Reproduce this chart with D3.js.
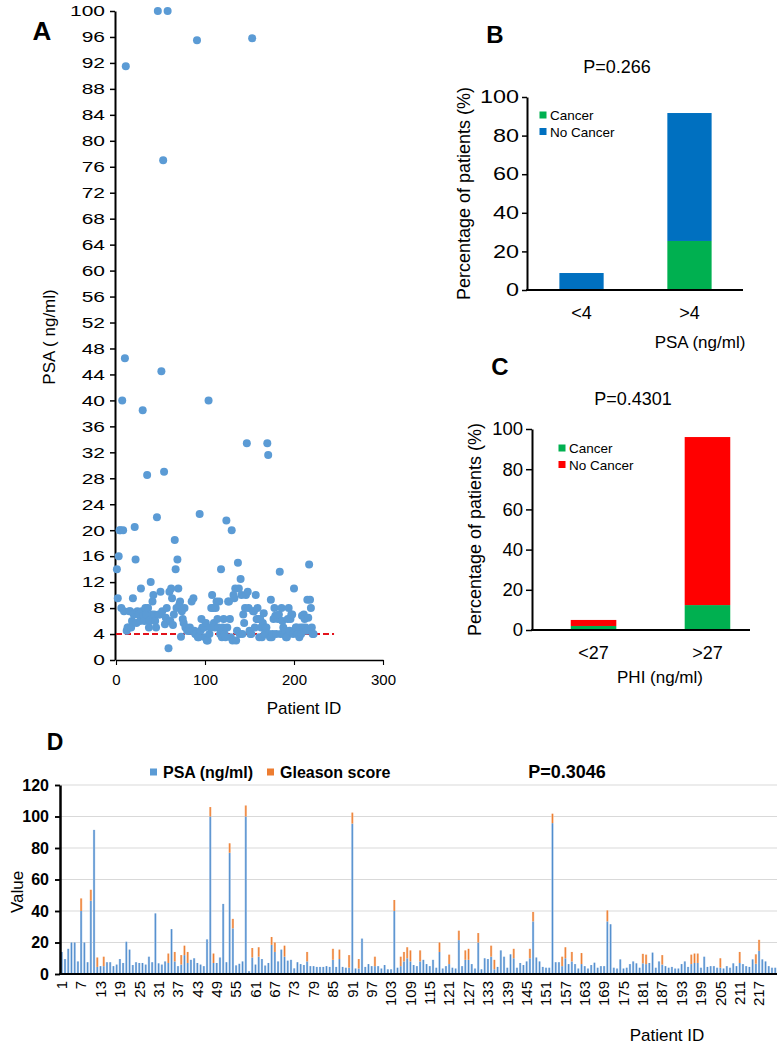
<!DOCTYPE html>
<html><head><meta charset="utf-8">
<script src="https://cdn.jsdelivr.net/npm/d3@7/dist/d3.min.js"></script>
<style>
body{margin:0;background:#fff}
svg text{font-family:"Liberation Sans",Arial,sans-serif;fill:#000}
</style>
</head><body>
<svg id="c" width="781" height="1048"></svg>
<script>
// ---------------- DATA ----------------
const patientIds = d3.range(1, 223);
const psa = [
 14, 9.5, 16, 20, 20, 8, 40, 20, 7.5, 46.5,
 91.5, 4.5, 5, 5, 7.5, 7.5, 5, 6, 9.5, 7,
 20.5, 15.5, 5.7, 7.5, 7, 7, 6, 11, 7.5, 38.5,
 6.8, 6, 8, 7, 28.5, 8, 5, 6, 12, 7,
 9, 10, 7, 6, 5, 22, 100, 7, 7, 10.5,
 44.5, 7.5, 77, 29, 5.5, 6.5, 8, 100, 1.8, 10.5,
 6, 11, 9.5, 5.4, 7, 18.5, 14, 8, 15.5, 11,
 8.5, 9, 3.6, 7.5, 6.3, 5.7, 8, 5, 5, 4.5,
 4.5, 4.5, 5, 4.5, 9, 4.5, 9.5, 4.5, 4, 4,
 95.5, 3.5, 3.5, 22.5, 4.5, 6.3, 5, 5, 5, 3.5,
 5.7, 3, 3, 40, 4, 5, 8, 10, 8, 5.7,
 5, 8, 9, 6.3, 5, 9, 4, 14, 3.5, 5,
 6.3, 4, 3.5, 21.5, 5, 9, 9, 6.3, 3.5, 20,
 3, 10, 9.5, 11, 3, 4.5, 15, 11, 4, 12.5,
 10, 4, 7, 5.7, 8, 10, 33.4, 10.5, 8, 4.5,
 4, 4, 95.8, 7.5, 7.5, 5, 10, 6.3, 8, 6.3,
 3.5, 6.3, 5, 3.5, 5.7, 7.2, 4, 5, 5, 33.4,
 31.6, 4, 3.5, 9.3, 3.5, 4, 6.3, 8, 6.8, 4,
 6.8, 6.3, 7, 13.6, 4, 8, 6, 5, 4, 4.5,
 3.5, 3.5, 6.3, 8, 4.5, 6.3, 7, 7, 4, 11,
 4.5, 5, 5, 4, 4, 3.5, 5, 4, 6.8, 5,
 7, 6.3, 5, 4.5, 9.3, 6.5, 14.7, 9.3, 8, 5,
 4, 4
];
const gleason = [
 0,0,0,0,0,0,8,0,0,7,
 0,6,0,6,0,0,0,0,0,0,
 0,0,0,0,0,0,0,0,0,0,
 0,0,0,6,0,6,0,6,6,7,
 0,0,0,0,0,0,6,6,0,0,
 0,0,6,6,0,0,0,7,0,6,
 0,6,0,0,0,5,6,0,0,7,
 0,0,0,0,0,0,6,0,0,0,
 0,0,0,0,7,0,6,0,0,8,
 7,0,6,0,0,0,0,6,0,0,
 0,0,0,7,0,6,6,7,7,0,
 0,7,0,0,0,0,0,6,0,0,
 6,0,0,6,0,6,7,0,0,6,
 0,0,0,7,6,0,0,0,0,0,
 6,0,0,0,0,6,6,0,0,0,
 0,0,6,0,0,6,7,0,6,0,
 0,7,0,0,0,0,0,0,0,7,
 0,0,0,0,0,0,0,0,0,0,
 6,6,0,0,0,0,6,0,0,0,
 0,0,0,0,0,6,6,6,0,0,
 0,0,0,0,6,0,0,0,0,0,
 7,0,0,0,0,6,7,0,0,0,
 0,0
];
const psaThreshold = 4;
const thresholdLineEnd = 245;
const scatterYTicks = d3.range(0, 101, 4);
const scatterXTicks = [0, 100, 200, 300];

const psaGroups = ["<4", ">4"];
const psaCancer = [0, 25.4];
const psaNoCancer = [8.8, 66.3];

const phiGroups = ["<27", ">27"];
const phiCancer = [2, 12.4];
const phiNoCancer = [3, 83.6];
const pctTicks = [0, 20, 40, 60, 80, 100];

const valueTicks = [0, 20, 40, 60, 80, 100, 120];
const idLabelStep = 6;

// ---------------- DRAW ----------------
const svg = d3.select("#c");
const FONT = '"Liberation Sans",Arial,sans-serif';

function styleAxis(g, w) {
  g.selectAll(".domain").attr("stroke", "#000").attr("stroke-width", w);
  g.selectAll(".tick line").attr("stroke", "#000").attr("stroke-width", w * 0.75);
  g.selectAll("text").attr("font-family", FONT).attr("fill", "#000");
}
function stretchLeftLabels(g, off, sx) {
  g.selectAll(".tick text").attr("x", -off / sx).attr("transform", `scale(${sx},1)`);
}

// ===== Panel A =====
{
  const x = d3.scaleLinear().domain([0, 300]).range([116, 383]);
  const y = d3.scaleLinear().domain([0, 100]).range([660, 11]);
  const gy = svg.append("g").attr("transform", "translate(115,0)")
    .call(d3.axisLeft(y).tickValues(scatterYTicks).tickSize(5).tickPadding(4).tickSizeOuter(0));
  styleAxis(gy, 2);
  gy.selectAll("text").attr("font-size", 15);
  stretchLeftLabels(gy, 10, 1.4);
  const gx = svg.append("g").attr("transform", "translate(0,660)")
    .call(d3.axisBottom(x).tickValues(scatterXTicks).tickSize(5).tickPadding(9).tickSizeOuter(0));
  styleAxis(gx, 1.5);
  gx.select(".domain").attr("stroke-width", 1.5);
  gx.selectAll("text").attr("font-size", 15);

  svg.append("line")
    .attr("x1", x(0)).attr("x2", x(thresholdLineEnd))
    .attr("y1", y(psaThreshold)).attr("y2", y(psaThreshold))
    .attr("stroke", "#e3121b").attr("stroke-width", 2).attr("stroke-dasharray", "6,3");

  svg.append("g").selectAll("circle").data(patientIds).join("circle")
    .attr("cx", d => x(d)).attr("cy", (d, i) => y(Math.min(psa[i], 100)))
    .attr("r", 4).attr("fill", "#5b9bd5");

  svg.append("text").attr("x", 42).attr("y", 40).attr("text-anchor", "middle")
    .attr("font-size", 26).attr("font-weight", "bold").text("A");
  svg.append("text").attr("transform", "translate(49.5,337) rotate(-90)")
    .attr("text-anchor", "middle").attr("dominant-baseline", "central")
    .attr("font-size", 17).text("PSA ( ng/ml)");
  svg.append("text").attr("x", 304).attr("y", 714).attr("text-anchor", "middle")
    .attr("font-size", 17).text("Patient ID");
}

// ===== Stacked percentage panels (B, C) =====
function stackedPanel(o) {
  const x = d3.scaleBand().domain(o.groups).range([o.x0, o.x1])
    .paddingInner(o.pi).paddingOuter(o.po);
  const y = d3.scaleLinear().domain([0, 100]).range([o.y0, o.y100]);
  const rows = o.groups.map((g, i) => ({ g, cancer: o.cancer[i], no: o.no[i] }));
  const stack = d3.stack().keys(["cancer", "no"])(rows);
  const colors = { cancer: "#00b050", no: o.noColor };
  svg.append("g").selectAll("g").data(stack).join("g")
    .attr("fill", s => colors[s.key])
    .selectAll("rect").data(s => s).join("rect")
    .attr("x", d => x(d.data.g)).attr("width", x.bandwidth())
    .attr("y", d => y(d[1])).attr("height", d => Math.max(0, y(d[0]) - y(d[1])));

  const gy = svg.append("g").attr("transform", `translate(${o.x0},0)`)
    .call(d3.axisLeft(y).tickValues(pctTicks).tickSize(o.tick).tickPadding(3).tickSizeOuter(0));
  styleAxis(gy, 2);
  gy.selectAll("text").attr("font-size", o.tickFont);
  if (o.stretch !== 1) stretchLeftLabels(gy, o.tick + 3, o.stretch);
  svg.append("line").attr("x1", o.x0 - 1).attr("x2", o.axisEnd)
    .attr("y1", o.y0).attr("y2", o.y0).attr("stroke", "#000").attr("stroke-width", 2);
  svg.append("g").selectAll("text").data(o.groups).join("text")
    .attr("x", d => x(d) + x.bandwidth() / 2).attr("y", o.y0 + 29)
    .attr("text-anchor", "middle").attr("font-size", 18).text(d => d);

  svg.append("text").attr("x", o.x0 - 32).attr("y", o.y100 - 54)
    .attr("text-anchor", "middle").attr("font-size", 24).attr("font-weight", "bold").text(o.letter);
  svg.append("text").attr("x", o.pX).attr("y", o.y100 - 24).attr("text-anchor", "middle")
    .attr("font-size", 18).text(o.p);
  svg.append("text").attr("transform", `translate(${o.labX},${(o.y0 + o.y100) / 2}) rotate(-90)`)
    .attr("text-anchor", "middle").attr("dominant-baseline", "central")
    .attr("font-size", 18).text("Percentage of patients (%)");
  svg.append("text").attr("x", o.xlabX).attr("y", o.xlabY).attr("text-anchor", "middle")
    .attr("font-size", 17).text(o.xlab);

  const leg = [["Cancer", "#00b050"], ["No Cancer", o.noColor]];
  leg.forEach((l, i) => {
    const cy = o.legY + i * 16.5;
    svg.append("rect").attr("x", o.legX - 3.5).attr("y", cy - 3.5).attr("width", 7).attr("height", 7).attr("fill", l[1]);
    svg.append("text").attr("x", o.legX + 7).attr("y", cy + 5).attr("font-size", 13.5).text(l[0]);
  });
}

stackedPanel({
  letter: "B", groups: psaGroups, cancer: psaCancer, no: psaNoCancer, noColor: "#0070c0",
  x0: 527, x1: 744, pi: 0.59, po: 0.3, y0: 290, y100: 97, tick: 5, axisEnd: 743,
  tickFont: 18, stretch: 1.3,
  p: "P=0.266", pX: 617, labX: 464, xlab: "PSA (ng/ml)", xlabX: 700, xlabY: 348,
  legX: 543, legY: 115
});
stackedPanel({
  letter: "C", groups: phiGroups, cancer: phiCancer, no: phiNoCancer, noColor: "#ff0000",
  x0: 532, x1: 769, pi: 0.6, po: 0.34, y0: 630, y100: 429, tick: 6, axisEnd: 750,
  tickFont: 18.5, stretch: 1,
  p: "P=0.4301", pX: 633, labX: 475, xlab: "PHI (ng/ml)", xlabX: 660, xlabY: 683,
  legX: 562, legY: 448
});

// ===== Panel D =====
{
  const defs = svg.append("defs");
  const gb = defs.append("linearGradient").attr("id", "gBlue").attr("x1", 0).attr("x2", 1).attr("y1", 0).attr("y2", 0);
  gb.append("stop").attr("offset", "0%").attr("stop-color", "#a9c7e9");
  gb.append("stop").attr("offset", "50%").attr("stop-color", "#4f8ccc");
  gb.append("stop").attr("offset", "100%").attr("stop-color", "#a9c7e9");
  const go = defs.append("linearGradient").attr("id", "gOrange").attr("x1", 0).attr("x2", 1).attr("y1", 0).attr("y2", 0);
  go.append("stop").attr("offset", "0%").attr("stop-color", "#f6bf96");
  go.append("stop").attr("offset", "50%").attr("stop-color", "#ed7d31");
  go.append("stop").attr("offset", "100%").attr("stop-color", "#f6bf96");

  const x = d3.scaleBand().domain(patientIds).range([60, 777]).paddingInner(0.3).paddingOuter(0.2);
  const y = d3.scaleLinear().domain([0, 120]).range([974, 785]);

  svg.append("g").selectAll("line").data(valueTicks.slice(1)).join("line")
    .attr("x1", 60).attr("x2", 777).attr("y1", d => y(d)).attr("y2", d => y(d))
    .attr("stroke", "#d9d9d9").attr("stroke-width", 1);

  const rows = patientIds.map((id, i) => ({ id, psa: psa[i], gleason: gleason[i] }));
  const stack = d3.stack().keys(["psa", "gleason"])(rows);
  const fills = { psa: "url(#gBlue)", gleason: "url(#gOrange)" };
  svg.append("g").selectAll("g").data(stack).join("g")
    .attr("fill", s => fills[s.key])
    .selectAll("rect").data(s => s.filter(d => d[1] > d[0])).join("rect")
    .attr("x", d => x(d.data.id)).attr("width", x.bandwidth())
    .attr("y", d => y(d[1])).attr("height", d => y(d[0]) - y(d[1]));

  const gy = svg.append("g").attr("transform", "translate(60,0)")
    .call(d3.axisLeft(y).tickValues(valueTicks).tickSize(5).tickPadding(6).tickSizeOuter(0));
  styleAxis(gy, 2.5);
  gy.selectAll("text").attr("font-size", 16).attr("font-weight", "bold");
  svg.append("line").attr("x1", 59).attr("x2", 777).attr("y1", 974).attr("y2", 974)
    .attr("stroke", "#000").attr("stroke-width", 2);

  svg.append("g").selectAll("text").data(patientIds.filter(d => (d - 1) % idLabelStep === 0)).join("text")
    .attr("transform", d => `translate(${x(d) + x.bandwidth() / 2},981) rotate(-90)`)
    .attr("text-anchor", "end").attr("dy", "0.35em").attr("font-size", 15).text(d => d);

  svg.append("text").attr("x", 55).attr("y", 750).attr("text-anchor", "middle")
    .attr("font-size", 23).attr("font-weight", "bold").text("D");
  svg.append("rect").attr("x", 150).attr("y", 768.5).attr("width", 7).attr("height", 7).attr("fill", "#5b9bd5");
  svg.append("text").attr("x", 163).attr("y", 778).attr("font-size", 16).attr("font-weight", "bold").text("PSA (ng/ml)");
  svg.append("rect").attr("x", 267).attr("y", 768.5).attr("width", 7).attr("height", 7).attr("fill", "#ed7d31");
  svg.append("text").attr("x", 280).attr("y", 778).attr("font-size", 16).attr("font-weight", "bold").text("Gleason score");
  svg.append("text").attr("x", 567).attr("y", 778).attr("text-anchor", "middle")
    .attr("font-size", 18).attr("font-weight", "bold").text("P=0.3046");
  svg.append("text").attr("transform", "translate(17,892) rotate(-90)")
    .attr("text-anchor", "middle").attr("dominant-baseline", "central")
    .attr("font-size", 17).text("Value");
  svg.append("text").attr("x", 667).attr("y", 1041).attr("text-anchor", "middle")
    .attr("font-size", 17).text("Patient ID");
}
</script>
</body></html>
